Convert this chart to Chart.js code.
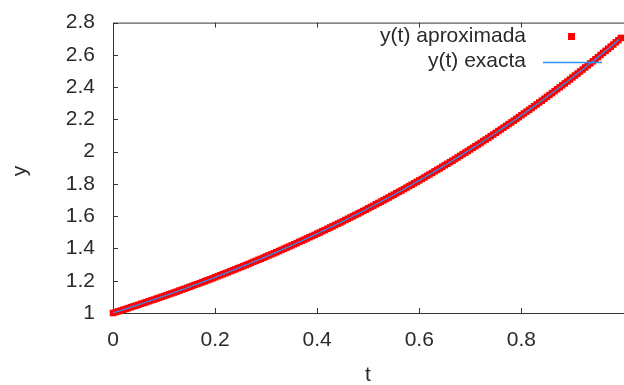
<!DOCTYPE html>
<html lang="es">
<head>
  <meta charset="UTF-8" />
  <title>y(t) aproximada vs exacta</title>
  <script src="https://cdn.jsdelivr.net/npm/chart.js"></script>
  <style>
    html, body { margin: 0; padding: 0; background: #fff; overflow: hidden; }
    #wrap { width: 624px; height: 385px; position: relative; }
  </style>
</head>
<body>
  <div id="wrap"><canvas id="grafico" width="624" height="385"></canvas></div>
  <script>
    // valores (paso 0.005)
    const tValues = [
      0.000, 0.005, 0.010, 0.015, 0.020, 0.025, 0.030, 0.035, 0.040, 0.045,
      0.050, 0.055, 0.060, 0.065, 0.070, 0.075, 0.080, 0.085, 0.090, 0.095,
      0.100, 0.105, 0.110, 0.115, 0.120, 0.125, 0.130, 0.135, 0.140, 0.145,
      0.150, 0.155, 0.160, 0.165, 0.170, 0.175, 0.180, 0.185, 0.190, 0.195,
      0.200, 0.205, 0.210, 0.215, 0.220, 0.225, 0.230, 0.235, 0.240, 0.245,
      0.250, 0.255, 0.260, 0.265, 0.270, 0.275, 0.280, 0.285, 0.290, 0.295,
      0.300, 0.305, 0.310, 0.315, 0.320, 0.325, 0.330, 0.335, 0.340, 0.345,
      0.350, 0.355, 0.360, 0.365, 0.370, 0.375, 0.380, 0.385, 0.390, 0.395,
      0.400, 0.405, 0.410, 0.415, 0.420, 0.425, 0.430, 0.435, 0.440, 0.445,
      0.450, 0.455, 0.460, 0.465, 0.470, 0.475, 0.480, 0.485, 0.490, 0.495,
      0.500, 0.505, 0.510, 0.515, 0.520, 0.525, 0.530, 0.535, 0.540, 0.545,
      0.550, 0.555, 0.560, 0.565, 0.570, 0.575, 0.580, 0.585, 0.590, 0.595,
      0.600, 0.605, 0.610, 0.615, 0.620, 0.625, 0.630, 0.635, 0.640, 0.645,
      0.650, 0.655, 0.660, 0.665, 0.670, 0.675, 0.680, 0.685, 0.690, 0.695,
      0.700, 0.705, 0.710, 0.715, 0.720, 0.725, 0.730, 0.735, 0.740, 0.745,
      0.750, 0.755, 0.760, 0.765, 0.770, 0.775, 0.780, 0.785, 0.790, 0.795,
      0.800, 0.805, 0.810, 0.815, 0.820, 0.825, 0.830, 0.835, 0.840, 0.845,
      0.850, 0.855, 0.860, 0.865, 0.870, 0.875, 0.880, 0.885, 0.890, 0.895,
      0.900, 0.905, 0.910, 0.915, 0.920, 0.925, 0.930, 0.935, 0.940, 0.945,
      0.950, 0.955, 0.960, 0.965, 0.970, 0.975, 0.980, 0.985, 0.990, 0.995
    ];
    const yAprox = [
      1.000, 1.005, 1.010, 1.015, 1.020, 1.025, 1.030, 1.036, 1.041, 1.046,
      1.051, 1.057, 1.062, 1.067, 1.073, 1.078, 1.083, 1.089, 1.094, 1.100,
      1.105, 1.111, 1.116, 1.122, 1.127, 1.133, 1.139, 1.145, 1.150, 1.156,
      1.162, 1.168, 1.174, 1.179, 1.185, 1.191, 1.197, 1.203, 1.209, 1.215,
      1.221, 1.228, 1.234, 1.240, 1.246, 1.252, 1.259, 1.265, 1.271, 1.278,
      1.284, 1.290, 1.297, 1.303, 1.310, 1.317, 1.323, 1.330, 1.336, 1.343,
      1.350, 1.357, 1.363, 1.370, 1.377, 1.384, 1.391, 1.398, 1.405, 1.412,
      1.419, 1.426, 1.433, 1.441, 1.448, 1.455, 1.462, 1.470, 1.477, 1.484,
      1.492, 1.499, 1.507, 1.514, 1.522, 1.530, 1.537, 1.545, 1.553, 1.560,
      1.568, 1.576, 1.584, 1.592, 1.600, 1.608, 1.616, 1.624, 1.632, 1.640,
      1.649, 1.657, 1.665, 1.674, 1.682, 1.690, 1.699, 1.707, 1.716, 1.725,
      1.733, 1.742, 1.751, 1.759, 1.768, 1.777, 1.786, 1.795, 1.804, 1.813,
      1.822, 1.831, 1.840, 1.850, 1.859, 1.868, 1.878, 1.887, 1.896, 1.906,
      1.916, 1.925, 1.935, 1.944, 1.954, 1.964, 1.974, 1.984, 1.994, 2.004,
      2.014, 2.024, 2.034, 2.044, 2.054, 2.065, 2.075, 2.085, 2.096, 2.106,
      2.117, 2.128, 2.138, 2.149, 2.160, 2.171, 2.181, 2.192, 2.203, 2.214,
      2.226, 2.237, 2.248, 2.259, 2.270, 2.282, 2.293, 2.305, 2.316, 2.328,
      2.340, 2.351, 2.363, 2.375, 2.387, 2.399, 2.411, 2.423, 2.435, 2.447,
      2.460, 2.472, 2.484, 2.497, 2.509, 2.522, 2.535, 2.547, 2.560, 2.573,
      2.586, 2.599, 2.612, 2.625, 2.638, 2.651, 2.664, 2.678, 2.691, 2.705
    ];
    const yExacta = yAprox.slice();
    const xTicks = [0, 0.2, 0.4, 0.6, 0.8];
    const yTicks = [1, 1.2, 1.4, 1.6, 1.8, 2, 2.2, 2.4, 2.6, 2.8];

    const FONT = '"Liberation Sans", Arial, sans-serif';
    const TEXT = '#2a2a2a';
    const AXIS = '#333333';

    // borde, ticks hacia dentro, titulos y leyenda al estilo gnuplot
    const gnuplotLook = {
      id: 'gnuplotLook',
      beforeDatasetsDraw(chart) {
        const { ctx, chartArea: a, scales: { x, y } } = chart;
        ctx.save();
        ctx.strokeStyle = AXIS;
        ctx.lineWidth = 1;
        ctx.beginPath();
        ctx.moveTo(a.left + 0.5, a.top + 0.5);
        ctx.lineTo(a.right + 5, a.top + 0.5);
        ctx.moveTo(a.left + 0.5, a.top + 0.5);
        ctx.lineTo(a.left + 0.5, a.bottom + 0.5);
        ctx.lineTo(a.right + 5, a.bottom + 0.5);
        xTicks.forEach(v => {
          const px = Math.round(x.getPixelForValue(v)) + 0.5;
          ctx.moveTo(px, a.bottom); ctx.lineTo(px, a.bottom - 5);
          ctx.moveTo(px, a.top); ctx.lineTo(px, a.top + 5);
        });
        yTicks.forEach(v => {
          const py = Math.round(y.getPixelForValue(v)) + 0.5;
          ctx.moveTo(a.left, py); ctx.lineTo(a.left + 5, py);
        });
        ctx.stroke();
        ctx.restore();
      },
      afterDraw(chart) {
        const { ctx } = chart;
        const ds = chart.data.datasets;
        ctx.save();
        ctx.font = '21px ' + FONT;
        ctx.fillStyle = TEXT;
        ctx.textBaseline = 'middle';
        ctx.textAlign = 'center';
        ctx.fillText('t', 368, 375);
        ctx.save();
        ctx.translate(20, 171);
        ctx.rotate(-Math.PI / 2);
        ctx.fillText('y', 0, 0);
        ctx.restore();
        ctx.textAlign = 'right';
        ctx.fillText(ds[0].label, 526, 36);
        ctx.fillText(ds[1].label, 526, 61);
        ctx.fillStyle = ds[0].backgroundColor;
        ctx.fillRect(568, 33, 7, 7);
        ctx.strokeStyle = ds[1].borderColor;
        ctx.lineWidth = 1.3;
        ctx.beginPath();
        ctx.moveTo(543, 62.5);
        ctx.lineTo(602, 62.5);
        ctx.stroke();
        ctx.restore();
      }
    };

    const ctx = document.getElementById('grafico').getContext('2d');
    new Chart(ctx, {
      type: 'scatter',
      data: {
        datasets: [
          {
            label: 'y(t) aproximada',
            data: tValues.map((t, i) => ({ x: t, y: yAprox[i] })),
            backgroundColor: '#ff0000',
            borderColor: '#ff0000',
            pointStyle: 'rect',
            pointRadius: 4.6,
            pointBorderWidth: 0,
            clip: false,
            order: 2
          },
          {
            label: 'y(t) exacta',
            type: 'line',
            data: tValues.map((t, i) => ({ x: t, y: yExacta[i] })),
            borderColor: '#2f8ef0',
            borderWidth: 1.3,
            pointRadius: 0,
            fill: false,
            order: 1
          }
        ]
      },
      options: {
        responsive: false,
        animation: false,
        devicePixelRatio: 1,
        layout: { padding: { top: 11, left: 0, right: 0, bottom: 0 } },
        plugins: { legend: { display: false }, tooltip: { enabled: false } },
        scales: {
          x: {
            type: 'linear',
            min: 0,
            max: 0.992,
            afterBuildTicks: s => { s.ticks = xTicks.map(v => ({ value: v })); },
            afterFit: s => { s.height = 72; },
            grid: { display: false },
            border: { display: false },
            ticks: {
              padding: 7,
              color: TEXT,
              font: { family: FONT, size: 21 },
              maxRotation: 0,
              callback: v => String(Number(v.toFixed(1)))
            }
          },
          y: {
            min: 1,
            max: 2.8,
            afterBuildTicks: s => { s.ticks = yTicks.map(v => ({ value: v })); },
            afterFit: s => { s.width = 113; },
            grid: { display: false },
            border: { display: false },
            ticks: {
              padding: 10,
              color: TEXT,
              font: { family: FONT, size: 21 },
              callback: v => String(Number(v.toFixed(1)))
            }
          }
        }
      },
      plugins: [gnuplotLook]
    });
  </script>
</body>
</html>
